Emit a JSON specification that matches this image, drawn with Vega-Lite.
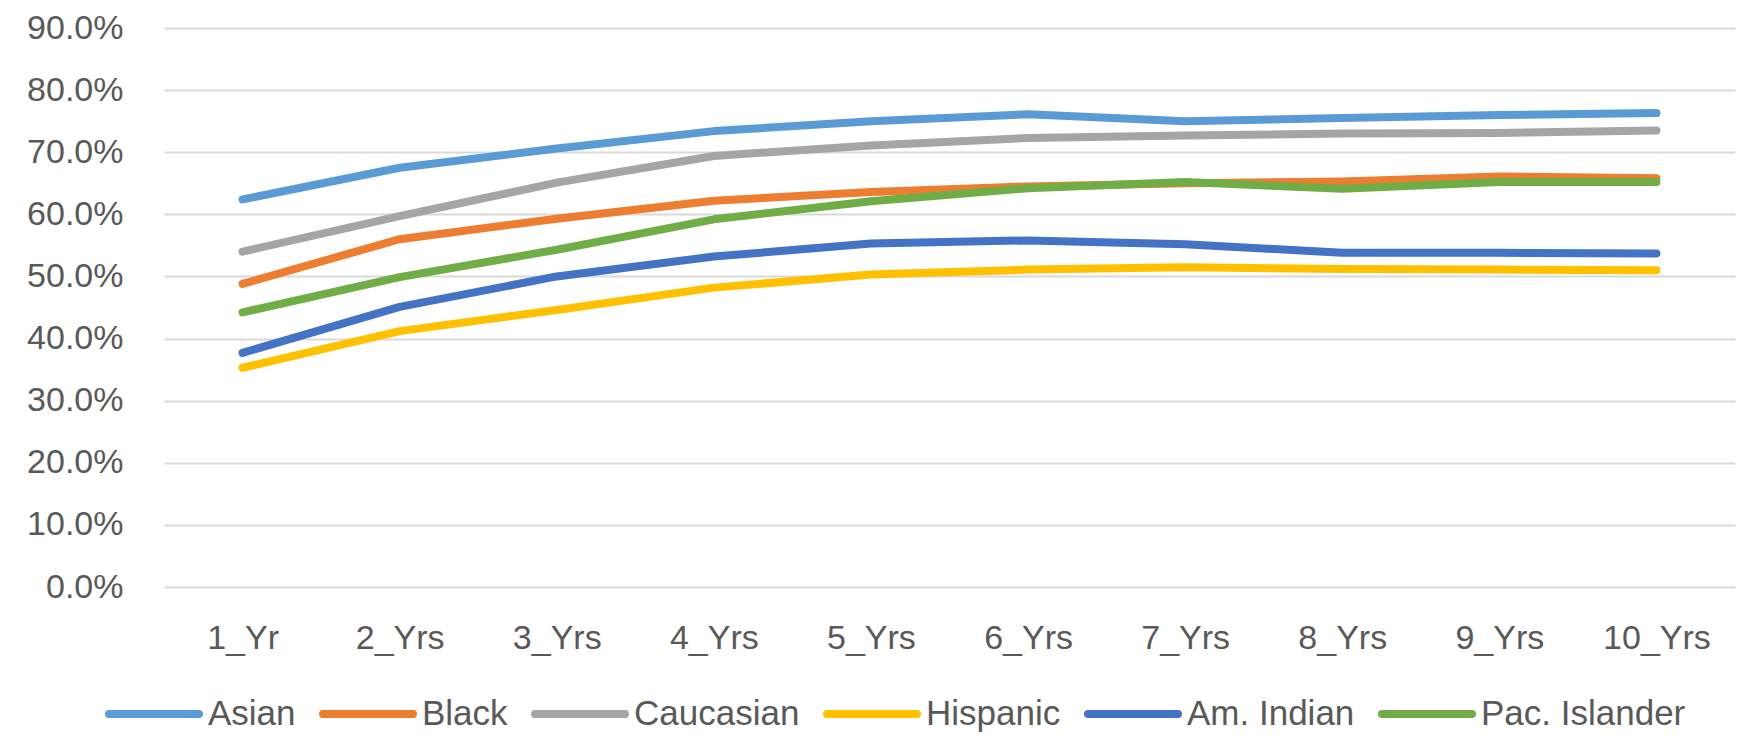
{
  "$schema": "https://vega.github.io/schema/vega-lite/v6.json",
  "autosize": "none",
  "width": 1571,
  "height": 559,
  "padding": {"left": 164, "top": 28, "right": 7, "bottom": 157},
  "background": "#ffffff",
  "config": {
    "view": {"stroke": null},
    "font": "Liberation Sans",
    "axis": {"labelColor": "#595959", "labelFont": "Liberation Sans"},
    "legend": {"labelColor": "#595959", "labelFont": "Liberation Sans"}
  },
  "data": {
    "values": [
      {"period": "1_Yr", "group": "Asian", "rate": 0.624},
      {"period": "2_Yrs", "group": "Asian", "rate": 0.675},
      {"period": "3_Yrs", "group": "Asian", "rate": 0.706},
      {"period": "4_Yrs", "group": "Asian", "rate": 0.734},
      {"period": "5_Yrs", "group": "Asian", "rate": 0.750},
      {"period": "6_Yrs", "group": "Asian", "rate": 0.761},
      {"period": "7_Yrs", "group": "Asian", "rate": 0.750},
      {"period": "8_Yrs", "group": "Asian", "rate": 0.755},
      {"period": "9_Yrs", "group": "Asian", "rate": 0.760},
      {"period": "10_Yrs", "group": "Asian", "rate": 0.763},

      {"period": "1_Yr", "group": "Black", "rate": 0.488},
      {"period": "2_Yrs", "group": "Black", "rate": 0.560},
      {"period": "3_Yrs", "group": "Black", "rate": 0.593},
      {"period": "4_Yrs", "group": "Black", "rate": 0.622},
      {"period": "5_Yrs", "group": "Black", "rate": 0.636},
      {"period": "6_Yrs", "group": "Black", "rate": 0.645},
      {"period": "7_Yrs", "group": "Black", "rate": 0.650},
      {"period": "8_Yrs", "group": "Black", "rate": 0.653},
      {"period": "9_Yrs", "group": "Black", "rate": 0.661},
      {"period": "10_Yrs", "group": "Black", "rate": 0.658},

      {"period": "1_Yr", "group": "Caucasian", "rate": 0.540},
      {"period": "2_Yrs", "group": "Caucasian", "rate": 0.597},
      {"period": "3_Yrs", "group": "Caucasian", "rate": 0.651},
      {"period": "4_Yrs", "group": "Caucasian", "rate": 0.694},
      {"period": "5_Yrs", "group": "Caucasian", "rate": 0.711},
      {"period": "6_Yrs", "group": "Caucasian", "rate": 0.723},
      {"period": "7_Yrs", "group": "Caucasian", "rate": 0.727},
      {"period": "8_Yrs", "group": "Caucasian", "rate": 0.730},
      {"period": "9_Yrs", "group": "Caucasian", "rate": 0.731},
      {"period": "10_Yrs", "group": "Caucasian", "rate": 0.735},

      {"period": "1_Yr", "group": "Hispanic", "rate": 0.353},
      {"period": "2_Yrs", "group": "Hispanic", "rate": 0.412},
      {"period": "3_Yrs", "group": "Hispanic", "rate": 0.446},
      {"period": "4_Yrs", "group": "Hispanic", "rate": 0.482},
      {"period": "5_Yrs", "group": "Hispanic", "rate": 0.503},
      {"period": "6_Yrs", "group": "Hispanic", "rate": 0.511},
      {"period": "7_Yrs", "group": "Hispanic", "rate": 0.515},
      {"period": "8_Yrs", "group": "Hispanic", "rate": 0.512},
      {"period": "9_Yrs", "group": "Hispanic", "rate": 0.511},
      {"period": "10_Yrs", "group": "Hispanic", "rate": 0.510},

      {"period": "1_Yr", "group": "Am. Indian", "rate": 0.377},
      {"period": "2_Yrs", "group": "Am. Indian", "rate": 0.451},
      {"period": "3_Yrs", "group": "Am. Indian", "rate": 0.500},
      {"period": "4_Yrs", "group": "Am. Indian", "rate": 0.532},
      {"period": "5_Yrs", "group": "Am. Indian", "rate": 0.553},
      {"period": "6_Yrs", "group": "Am. Indian", "rate": 0.558},
      {"period": "7_Yrs", "group": "Am. Indian", "rate": 0.552},
      {"period": "8_Yrs", "group": "Am. Indian", "rate": 0.538},
      {"period": "9_Yrs", "group": "Am. Indian", "rate": 0.538},
      {"period": "10_Yrs", "group": "Am. Indian", "rate": 0.537},

      {"period": "1_Yr", "group": "Pac. Islander", "rate": 0.442},
      {"period": "2_Yrs", "group": "Pac. Islander", "rate": 0.499},
      {"period": "3_Yrs", "group": "Pac. Islander", "rate": 0.543},
      {"period": "4_Yrs", "group": "Pac. Islander", "rate": 0.592},
      {"period": "5_Yrs", "group": "Pac. Islander", "rate": 0.621},
      {"period": "6_Yrs", "group": "Pac. Islander", "rate": 0.642},
      {"period": "7_Yrs", "group": "Pac. Islander", "rate": 0.652},
      {"period": "8_Yrs", "group": "Pac. Islander", "rate": 0.641},
      {"period": "9_Yrs", "group": "Pac. Islander", "rate": 0.652},
      {"period": "10_Yrs", "group": "Pac. Islander", "rate": 0.652}
    ]
  },
  "mark": {"type": "line", "strokeWidth": 8, "strokeCap": "round", "strokeJoin": "round"},
  "encoding": {
    "x": {
      "field": "period",
      "type": "ordinal",
      "sort": ["1_Yr", "2_Yrs", "3_Yrs", "4_Yrs", "5_Yrs", "6_Yrs", "7_Yrs", "8_Yrs", "9_Yrs", "10_Yrs"],
      "scale": {"type": "point", "padding": 0.5},
      "axis": {
        "title": null,
        "labelAngle": 0,
        "labelFontSize": 34,
        "labelPadding": 34,
        "domain": false,
        "ticks": false,
        "grid": false
      }
    },
    "y": {
      "field": "rate",
      "type": "quantitative",
      "scale": {"domain": [0, 0.9], "nice": false, "zero": true},
      "axis": {
        "title": null,
        "format": ".1%",
        "values": [0, 0.1, 0.2, 0.3, 0.4, 0.5, 0.6, 0.7, 0.8, 0.9],
        "labelFontSize": 34,
        "labelPadding": 41,
        "domain": false,
        "ticks": false,
        "grid": true,
        "gridColor": "#d9d9d9",
        "gridWidth": 2
      }
    },
    "color": {
      "field": "group",
      "type": "nominal",
      "sort": ["Asian", "Black", "Caucasian", "Hispanic", "Am. Indian", "Pac. Islander"],
      "scale": {
        "domain": ["Asian", "Black", "Caucasian", "Hispanic", "Am. Indian", "Pac. Islander"],
        "range": ["#5b9bd5", "#ed7d31", "#a5a5a5", "#ffc000", "#4472c4", "#70ad47"]
      },
      "legend": {
        "title": null,
        "orient": "none",
        "direction": "horizontal",
        "legendX": -59,
        "legendY": 637,
        "columns": 6,
        "columnPadding": 11,
        "padding": 0,
        "symbolType": "stroke",
        "symbolSize": 8100,
        "symbolStrokeWidth": 8,
        "labelFontSize": 35,
        "labelOffset": 5,
        "labelLimit": 400,
        "encode": {"symbols": {"update": {"strokeCap": {"value": "round"}}}}
      }
    },
    "order": {"field": "group"}
  }
}
